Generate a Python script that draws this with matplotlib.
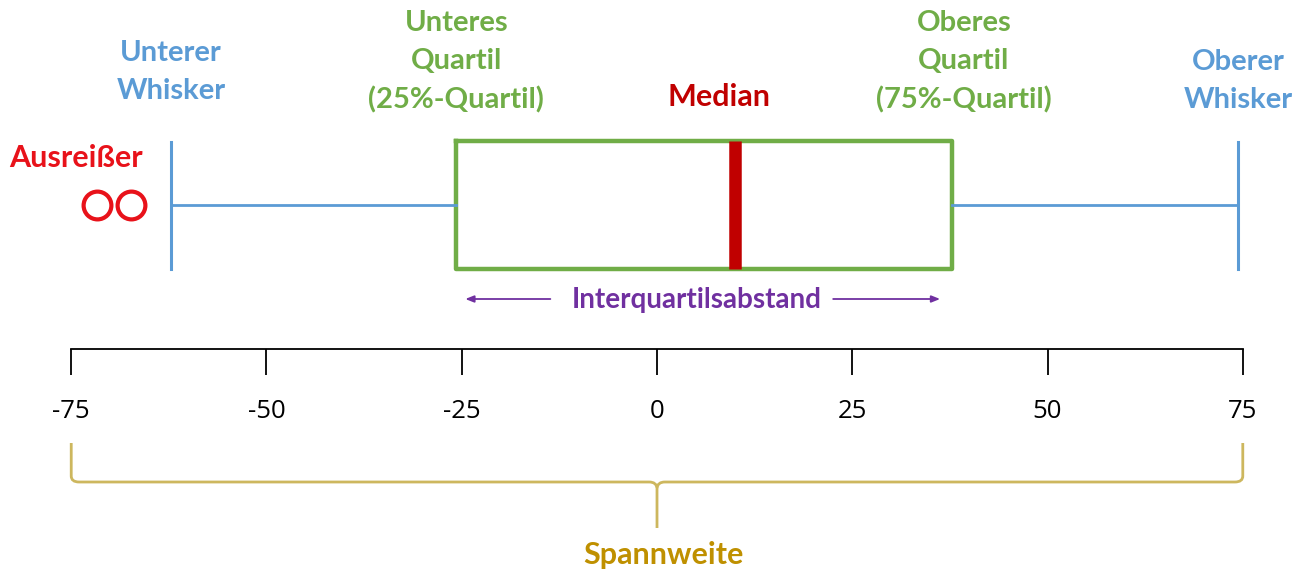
import matplotlib
matplotlib.use("Agg")
import matplotlib.pyplot as plt
from matplotlib.path import Path
from matplotlib.patches import PathPatch

# ---- data ----
q1 = -25.7
median = 10.0
q3 = 37.8
whisker_low = -62.2
whisker_high = 74.4
outliers = [-71.7, -67.3]
tick_values = [-75, -50, -25, 0, 25, 50, 75]
tick_labels = ["-75", "-50", "-25", "0", "25", "50", "75"]

label_lower_whisker = "Unterer\nWhisker"
label_q1 = "Unteres\nQuartil\n(25%-Quartil)"
label_median = "Median"
label_q3 = "Oberes\nQuartil\n(75%-Quartil)"
label_upper_whisker = "Oberer\nWhisker"
label_outliers = "Ausreißer"
label_iqr = "Interquartilsabstand"
label_range = "Spannweite"

# ---- style ----
W, H = 1298, 576
DPI = 100
X0, X1 = -84.12, 82.07  # x limits so that -75 -> px 72, 75 -> px 1243
BLUE = "#5B9BD5"
GREEN = "#70AD47"
DARKRED = "#C00000"
RED = "#E8121A"
PURPLE = "#7030A0"
GOLD = "#BF9000"
BRACE = "#CDB75E"
FONT = ["Lato", "DejaVu Sans"]

fig = plt.figure(figsize=(W / DPI, H / DPI), dpi=DPI)
ax = fig.add_axes([0, 0, 1, 1])

stats = [dict(med=median, q1=q1, q3=q3, whislo=whisker_low, whishi=whisker_high,
              fliers=outliers)]
ax.bxp(stats, positions=[205], widths=[128], capwidths=[127],
       orientation="horizontal", showfliers=True,
       boxprops=dict(color=GREEN, linewidth=3.2),
       medianprops=dict(color=DARKRED, linewidth=9, solid_capstyle="butt"),
       whiskerprops=dict(color=BLUE, linewidth=2.0),
       capprops=dict(color=BLUE, linewidth=2.2),
       flierprops=dict(marker="o", markerfacecolor="none", markeredgecolor=RED,
                       markersize=20, markeredgewidth=3.0))
ax.set_xlim(X0, X1)
ax.set_ylim(H, 0)
ax.set_axis_off()

# ---- number line axis ----
axn_y = 1 - 349 / H
axn = fig.add_axes([0, axn_y - 0.001, 1, 0.001])
axn.set_xlim(X0, X1)
axn.set_ylim(0, 1)
axn.patch.set_alpha(0)
for s in ["top", "left", "right"]:
    axn.spines[s].set_visible(False)
axn.spines["bottom"].set_position(("axes", 1.0))
axn.spines["bottom"].set_bounds(tick_values[0], tick_values[-1])
axn.spines["bottom"].set_linewidth(1.3)
axn.set_yticks([])
axn.set_xticks(tick_values)
axn.set_xticklabels(tick_labels)
axn.tick_params(axis="x", direction="out", length=19, width=1.3, pad=17,
                labelsize=18.5, colors="black")
for t in axn.get_xticklabels():
    t.set_family(["Open Sans", "DejaVu Sans"])

# ---- labels ----
def lab(x, y, s, color, size=21, ha="center"):
    ax.text(x, y, s, color=color, fontsize=size, fontweight="bold", family=FONT,
            ha=ha, va="center", linespacing=1.56)

lab(whisker_low, 72, label_lower_whisker, BLUE)
lab(q1, 62, label_q1, GREEN)
lab(median - 2.0, 97, label_median, DARKRED, size=22)
lab(q3 + 1.5, 62, label_q3, GREEN)
lab(whisker_high, 81, label_upper_whisker, BLUE)
lab(-74.4, 158, label_outliers, RED, size=22)
lab((q1 + q3) / 2 - 1.0, 300, label_iqr, PURPLE, size=20)
lab(0.8, 555, label_range, GOLD, size=22)

# IQR arrows
arrow_kw = dict(arrowstyle="-|>,head_length=0.5,head_width=0.2", color=PURPLE, lw=1.3)
ax.annotate("", xy=(q1 + 0.8, 299), xytext=(q1 + 12.4, 299), arrowprops=arrow_kw)
ax.annotate("", xy=(q3 - 1.2, 299), xytext=(q3 - 15.6, 299), arrowprops=arrow_kw)

# ---- range brace ----
lo, hi = tick_values[0], tick_values[-1]
mid = (lo + hi) / 2
yt, yh, yb = 443, 482, 528
dx = 1.0
verts = [
    (lo, yt), (lo, yh - 6), (lo, yh), (lo + dx, yh),
    (mid - dx, yh), (mid - 0.1, yh), (mid, yh + 6), (mid, yb),
]
codes = [Path.MOVETO, Path.LINETO, Path.CURVE3, Path.CURVE3,
         Path.LINETO, Path.CURVE3, Path.CURVE3, Path.LINETO]
ax.add_patch(PathPatch(Path(verts, codes), fill=False, edgecolor=BRACE, lw=2.0))
verts2 = [
    (hi, yt), (hi, yh - 6), (hi, yh), (hi - dx, yh),
    (mid + dx, yh), (mid + 0.1, yh), (mid, yh + 6),
]
codes2 = [Path.MOVETO, Path.LINETO, Path.CURVE3, Path.CURVE3,
          Path.LINETO, Path.CURVE3, Path.CURVE3]
ax.add_patch(PathPatch(Path(verts2, codes2), fill=False, edgecolor=BRACE, lw=2.0))

fig.savefig("out.png", dpi=DPI, facecolor="white")
